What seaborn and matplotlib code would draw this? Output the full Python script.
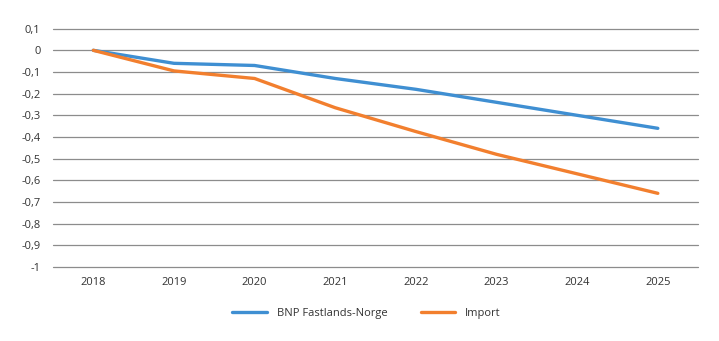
import matplotlib
matplotlib.use("Agg")
import matplotlib.pyplot as plt
import seaborn as sns
import pandas as pd
from matplotlib.ticker import FuncFormatter

years = [2018, 2019, 2020, 2021, 2022, 2023, 2024, 2025]
bnp_fastland = [0, -0.06, -0.07, -0.13, -0.18, -0.24, -0.30, -0.36]
importe = [0, -0.095, -0.13, -0.265, -0.375, -0.48, -0.57, -0.66]
series_names = ["BNP Fastlands-Norge", "Import"]
colors = ["#3f8fd2", "#f27f2e"]

df = pd.concat([
    pd.DataFrame({"pos": range(len(years)), "verdi": bnp_fastland, "serie": series_names[0]}),
    pd.DataFrame({"pos": range(len(years)), "verdi": importe, "serie": series_names[1]}),
])

sns.set_theme(style="white")
plt.rcParams["font.family"] = ["Open Sans", "DejaVu Sans"]

fig = plt.figure(figsize=(7.19, 3.41), dpi=100)
ax = fig.add_axes([0.0737, 0.217, 0.8973, 0.699])

for y in [round(0.1 - 0.1 * i, 1) for i in range(12)]:
    ax.axhline(y, color="#8c8c8c", lw=0.9, zorder=0, clip_on=False)

sns.lineplot(data=df, x="pos", y="verdi", hue="serie", palette=colors,
             linewidth=2.4, ax=ax, legend=False, sort=False)

ax.set_xlim(-0.5, len(years) - 0.5)
ax.set_ylim(-1.0, 0.1)
ax.set_xticks(range(len(years)))
ax.set_xticklabels([str(y) for y in years])
ax.set_yticks([round(-1 + 0.1 * i, 1) for i in range(12)])


def fmt(v, _):
    s = f"{v:.1f}".replace(".", ",")
    if s.endswith(",0"):
        s = s[:-2]
    if s == "-0":
        s = "0"
    return s


ax.yaxis.set_major_formatter(FuncFormatter(fmt))
ax.tick_params(axis="both", length=0, labelsize=8, colors="#333333")
ax.tick_params(axis="y", pad=9)
ax.tick_params(axis="x", pad=7)
ax.set_xlabel("")
ax.set_ylabel("")
for s in ax.spines.values():
    s.set_visible(False)

handles = [plt.Line2D([], [], color=c, lw=2.4) for c in colors]
fig.legend(handles, series_names, loc="center", bbox_to_anchor=(0.51, 0.082),
           ncol=2, frameon=False, fontsize=8, handlelength=3.1,
           columnspacing=3.0, handletextpad=0.9, labelcolor="#333333")

fig.savefig("out.png", dpi=100)
